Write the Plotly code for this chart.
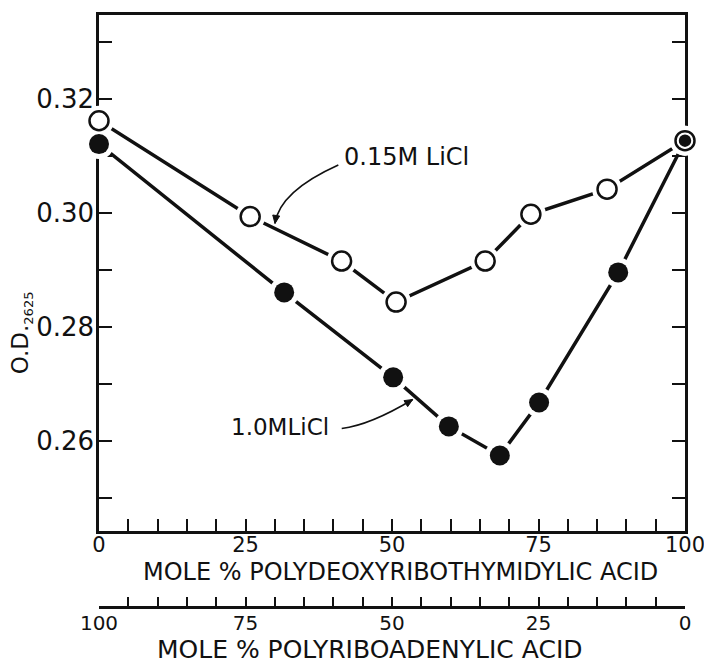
import plotly.graph_objects as go

# Mole % polydeoxyribothymidylic acid (poly dT) and optical density at 2625 A
pct_015 = [0, 25.8, 41.4, 50.7, 65.9, 73.7, 86.7, 100]
od_015 = [0.3162, 0.2994, 0.2916, 0.2844, 0.2916, 0.2998, 0.3042, 0.3127]
pct_10 = [0, 31.6, 50.2, 59.7, 68.4, 75.1, 88.6, 100]
od_10 = [0.3121, 0.2861, 0.2712, 0.2626, 0.2575, 0.2668, 0.2896, 0.3127]

x_ticks = list(range(0, 101, 5))
x_labels = ["0", "25", "50", "75", "100"]
y_ticks = [0.25, 0.26, 0.27, 0.28, 0.29, 0.30, 0.31, 0.32, 0.33]
y_labels = ["0.26", "0.28", "0.30", "0.32"]
polyA_labels = ["100", "75", "50", "25", "0"]

label_015 = "0.15M LiCl"
label_10 = "1.0MLiCl"
x_title = "MOLE % POLYDEOXYRIBOTHYMIDYLIC ACID"
x2_title = "MOLE % POLYRIBOADENYLIC ACID"
y_title = "O.D.<sub><span style='font-size:13px'>2625</span></sub>"

FONT = "DejaVu Sans"
INK = "#111111"

def tick_text(vals, labels, fmt):
    return [fmt(v) if fmt(v) in labels else "" for v in vals]

fig = go.Figure()

# connecting lines
for xs, ys in [(pct_015, od_015), (pct_10, od_10)]:
    fig.add_trace(go.Scatter(x=xs, y=ys, mode="lines",
                             line=dict(color=INK, width=3.5),
                             hoverinfo="skip", showlegend=False, cliponaxis=False))
# white halos to give gaps between lines and symbols
for xs, ys in [(pct_015, od_015), (pct_10, od_10)]:
    fig.add_trace(go.Scatter(x=xs, y=ys, mode="markers",
                             marker=dict(color="white", size=30, opacity=1,
                                         line=dict(width=0)),
                             hoverinfo="skip", showlegend=False, cliponaxis=False))
# open circles, 0.15 M LiCl
fig.add_trace(go.Scatter(x=pct_015, y=od_015, mode="markers", name=label_015,
                         marker=dict(color="white", size=19, opacity=1,
                                     line=dict(color=INK, width=2.5)),
                         showlegend=False, cliponaxis=False))
# filled circles, 1.0 M LiCl (smaller where it sits inside an open circle)
common = set(zip(pct_015, od_015))
sizes = [14 if (a, b) in common else 20 for a, b in zip(pct_10, od_10)]
lw = [1.5 if (a, b) in common else 0 for a, b in zip(pct_10, od_10)]
fig.add_trace(go.Scatter(x=pct_10, y=od_10, mode="markers", name=label_10,
                         marker=dict(color=INK, size=sizes, opacity=1,
                                     line=dict(color="white", width=lw)),
                         showlegend=False, cliponaxis=False))
# invisible trace carrying the poly A axis
fig.add_trace(go.Scatter(x=[100, 0], y=[0.30, 0.30], xaxis="x2", mode="markers",
                         marker=dict(opacity=0), hoverinfo="skip", showlegend=False))

fig.update_layout(
    width=704, height=663,
    margin=dict(l=99, r=19, t=15, b=50, autoexpand=False),
    paper_bgcolor="white", plot_bgcolor="white",
    font=dict(family=FONT, color=INK),
    xaxis=dict(range=[0, 100], tickvals=x_ticks,
               ticktext=tick_text(x_ticks, x_labels, lambda v: str(v)),
               ticks="inside", ticklen=12, tickwidth=2, tickcolor=INK,
               showline=True, linewidth=2.5, linecolor=INK, mirror=True,
               showgrid=False, zeroline=False, layer="below traces",
               ticklabelstandoff=-7, ticklabeloverflow="allow", automargin=False,
               tickfont=dict(size=21, family=FONT), anchor="y"),
    yaxis=dict(range=[0.24426, 0.33474], domain=[0.1371, 1], tickvals=y_ticks,
               ticktext=tick_text(y_ticks, y_labels, lambda v: f"{v:.2f}"),
               ticks="inside", ticklen=13, tickwidth=2, tickcolor=INK,
               showline=True, linewidth=2.5, linecolor=INK, mirror="ticks",
               showgrid=False, zeroline=False, layer="below traces",
               ticklabelstandoff=-3, ticklabeloverflow="allow", automargin=False,
               tickfont=dict(size=26, family=FONT)),
    xaxis2=dict(range=[100, 0], overlaying="x", anchor="free", position=0.01,
                side="bottom", tickvals=x_ticks,
                ticktext=tick_text(x_ticks, polyA_labels, lambda v: str(v)),
                ticks="inside", ticklen=9, tickwidth=2, tickcolor=INK,
                showline=True, linewidth=2.5, linecolor=INK,
                showgrid=False, zeroline=False, ticklabelstandoff=-3,
                ticklabeloverflow="allow", automargin=False,
                tickfont=dict(size=20, family=FONT)),
)

# curved leader arrows with small filled heads
fig.add_shape(type="path", xref="x", yref="y",
              path="M 40.84,0.30842 Q 30.85,0.30381 30.03,0.29819",
              line=dict(color=INK, width=1.6))
fig.add_shape(type="path", xref="x", yref="y",
              path="M 30.03,0.29819 L 30.83,0.29949 L 29.65,0.29967 Z",
              fillcolor=INK, line=dict(color=INK, width=1))
fig.add_shape(type="path", xref="x", yref="y",
              path="M 41.42,0.26223 Q 46.35,0.26288 53.53,0.26732",
              line=dict(color=INK, width=1.6))
fig.add_shape(type="path", xref="x", yref="y",
              path="M 53.53,0.26732 L 52.67,0.26607 L 52.05,0.26712 Z",
              fillcolor=INK, line=dict(color=INK, width=1))

ann = [
    dict(x=52.39, y=0.30982, text=label_015, showarrow=False,
         font=dict(size=24, family=FONT, color=INK)),
    dict(x=30.89, y=0.26246, text=label_10, showarrow=False,
         font=dict(size=23, family=FONT, color=INK)),
    dict(xref="paper", x=-0.1331, y=0.27895, text=y_title, textangle=-90,
         showarrow=False, font=dict(size=23, family=FONT, color=INK)),
    dict(x=51.4, yref="paper", y=0.0686, text=x_title, showarrow=False,
         font=dict(size=24, family=FONT, color=INK)),
    dict(x=46.25, yref="paper", y=-0.0615, text=x2_title, showarrow=False,
         font=dict(size=25, family=FONT, color=INK)),
]
for a in ann:
    a.setdefault("xref", "x")
    a.setdefault("yref", "y")
    a.setdefault("xanchor", "center")
    a.setdefault("yanchor", "middle")
    fig.add_annotation(**a)

fig.write_html("out.html",
               config={"displayModeBar": False},
               post_script="document.body.style.margin='0';")
